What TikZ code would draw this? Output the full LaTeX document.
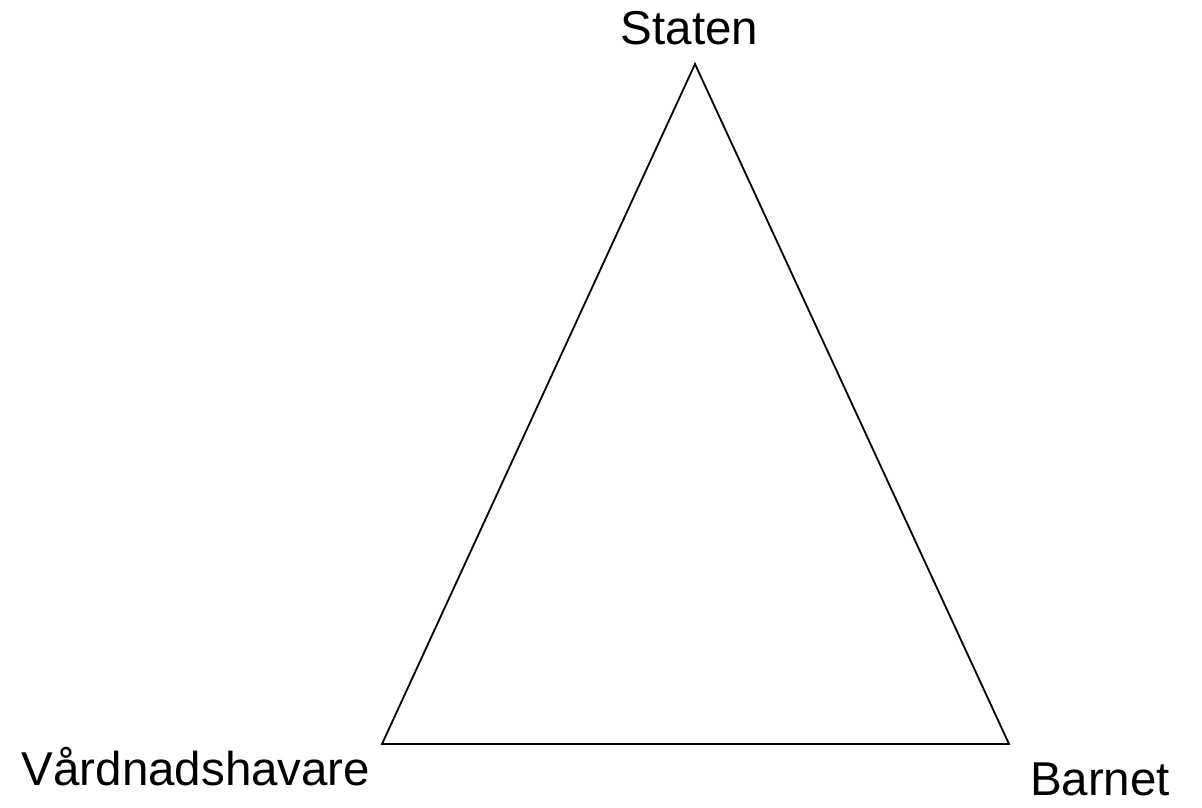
\documentclass[tikz,border=0pt]{standalone}
\usepackage{fontspec}
\setmainfont{Liberation Sans}
\begin{document}
\begin{tikzpicture}[x=1pt,y=-1pt,
  lbl/.style={anchor=base,inner sep=0pt,font=\fontsize{47.5}{52}\selectfont},
  edge/.style={line width=1.8pt,line join=miter}]
\useasboundingbox (0,0) rectangle (1202,808);
\coordinate (top) at (695,64);
\coordinate (bl) at (382,744);
\coordinate (br) at (1009,744);
\draw[edge] (top) -- (bl) -- (br) -- cycle;
\node[lbl] (staten) at (689.5,45) {Staten};
\node[lbl] (vard) at (196,785) {Vårdnadshavare};
\node[lbl] (barnet) at (1100,795) {Barnet};
\end{tikzpicture}
\end{document}
